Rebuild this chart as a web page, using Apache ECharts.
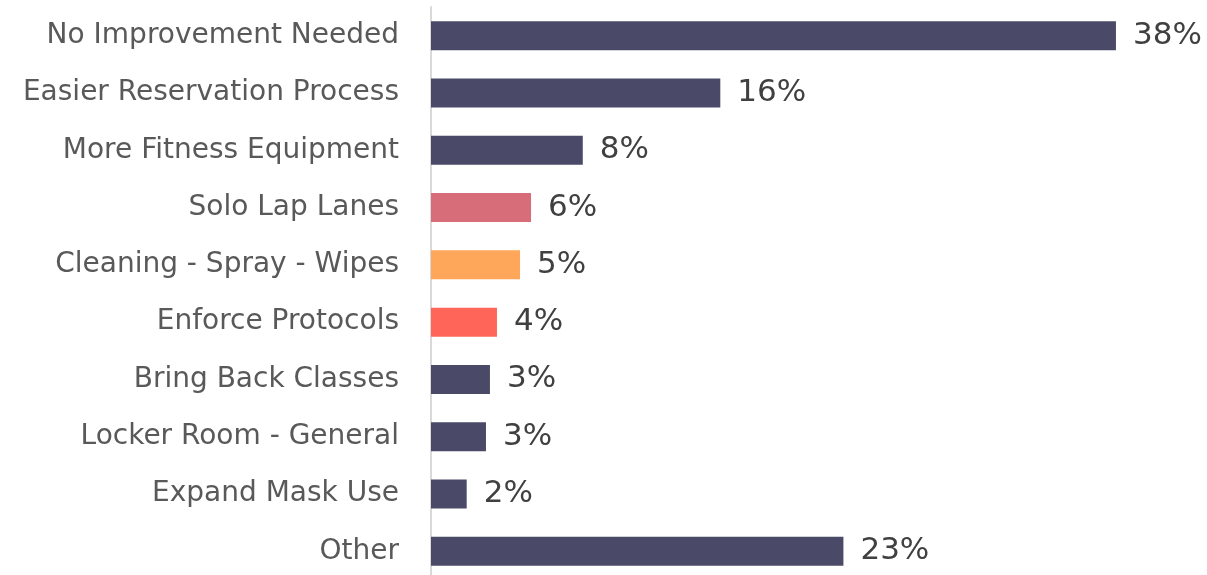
<!DOCTYPE html>
<html>
<head>
<meta charset="utf-8">
<script src="https://cdn.jsdelivr.net/npm/echarts@6/dist/echarts.min.js"></script>
<style>
html,body{margin:0;padding:0;background:#fff;}
#chart{width:1207px;height:575px;}
</style>
</head>
<body>
<div id="chart"></div>
<script>
const categories = [
  "No Improvement Needed",
  "Easier Reservation Process",
  "More Fitness Equipment",
  "Solo Lap Lanes",
  "Cleaning - Spray - Wipes",
  "Enforce Protocols",
  "Bring Back Classes",
  "Locker Room - General",
  "Expand Mask Use",
  "Other"
];
const values = [38, 16.05, 8.42, 5.55, 4.94, 3.66, 3.27, 3.05, 1.98, 22.88];
const valueLabels = ["38%", "16%", "8%", "6%", "5%", "4%", "3%", "3%", "2%", "23%"];
const barColors = ["#4A4A68", "#4A4A68", "#4A4A68", "#D76D78", "#FEA75A", "#FF6659", "#4A4A68", "#4A4A68", "#4A4A68", "#4A4A68"];

const chart = echarts.init(document.getElementById('chart'), null, {renderer: 'canvas'});
chart.setOption({
  animation: false,
  grid: {left: 431, width: 721, top: 7, height: 573, outerBoundsMode: 'none', containLabel: false},
  xAxis: {
    type: 'value', min: 0, max: 40, show: false,
    splitLine: {show: false}
  },
  yAxis: {
    type: 'category', data: categories, inverse: true,
    axisLine: {show: true, lineStyle: {color: '#D9D9D9', width: 2}},
    axisTick: {show: false},
    axisLabel: {
      margin: 32, fontSize: 28, color: '#595959',
      fontFamily: 'DejaVu Sans'
    }
  },
  series: [{
    type: 'bar',
    data: values.map((v, i) => ({value: v, itemStyle: {color: barColors[i]}})),
    barWidth: 29,
    label: {
      show: true, position: 'right', distance: 17,
      fontSize: 31, color: '#404040', fontFamily: 'DejaVu Sans',
      formatter: p => valueLabels[p.dataIndex]
    }
  }]
});
</script>
</body>
</html>
